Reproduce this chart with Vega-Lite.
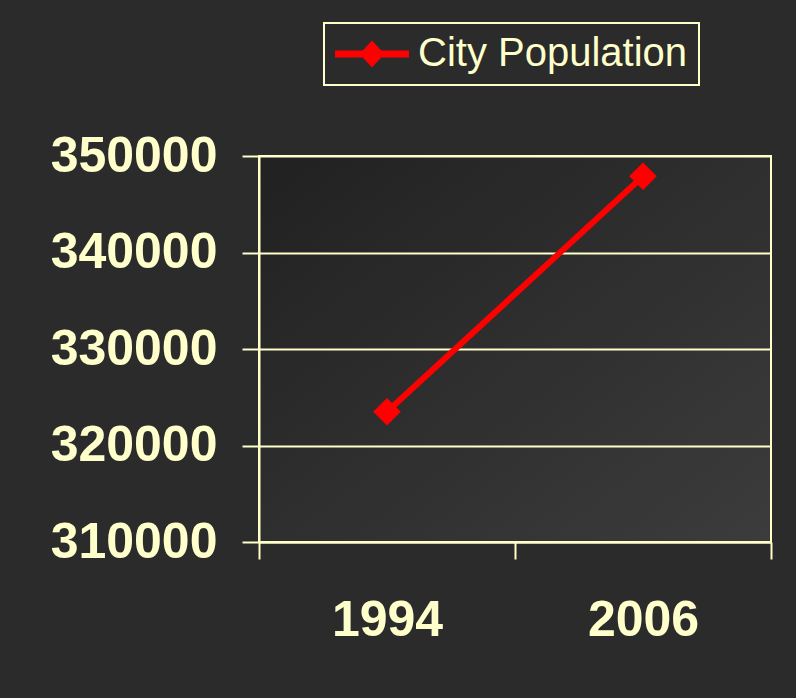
{
  "$schema": "https://vega.github.io/schema/vega-lite/v6.json",
  "width": 512,
  "height": 386,
  "autosize": {"type": "none"},
  "padding": {"left": 259, "top": 156, "right": 25, "bottom": 156},
  "background": "#2b2b2b",
  "data": {
    "values": [
      {"year": "1994", "population": 323500, "series": "City Population"},
      {"year": "2006", "population": 347900, "series": "City Population"}
    ]
  },
  "encoding": {
    "x": {
      "field": "year",
      "type": "nominal",
      "scale": {"paddingInner": 0, "paddingOuter": 0},
      "axis": {
        "title": null,
        "labelAngle": 0,
        "labelFont": "Liberation Sans",
        "labelFontWeight": "bold",
        "labelFontSize": 50,
        "labelColor": "#FFFFCC",
        "labelPadding": 36,
        "tickBand": "extent",
        "tickSize": 17,
        "tickWidth": 2,
        "tickColor": "#FFFFCC",
        "domainColor": "#FFFFCC",
        "domainWidth": 2,
        "grid": false
      }
    },
    "y": {
      "field": "population",
      "type": "quantitative",
      "scale": {"domain": [310000, 350000], "nice": false, "zero": false},
      "axis": {
        "title": null,
        "values": [310000, 320000, 330000, 340000, 350000],
        "format": "d",
        "labelFont": "Liberation Sans",
        "labelFontWeight": "bold",
        "labelFontSize": 50,
        "labelColor": "#FFFFCC",
        "labelPadding": 25,
        "tickSize": 17,
        "tickWidth": 2,
        "tickColor": "#FFFFCC",
        "domainColor": "#FFFFCC",
        "domainWidth": 2,
        "grid": true,
        "gridColor": "#FFFFCC",
        "gridWidth": 2,
        "gridOpacity": 1
      }
    },
    "color": {
      "field": "series",
      "type": "nominal",
      "scale": {"range": ["#FF0000"]},
      "legend": {
        "title": null,
        "orient": "none",
        "legendX": 65,
        "legendY": -133,
        "padding": 11,
        "strokeColor": "#FFFFCC",
        "symbolType": "M-1.85,-0.175L-0.463,-0.175L0,-0.675L0.463,-0.175L1.85,-0.175L1.85,0.175L0.463,0.175L0,0.675L-0.463,0.175L-1.85,0.175Z",
        "symbolSize": 1600,
        "symbolOffset": 17,
        "symbolFillColor": "#FF0000",
        "symbolStrokeWidth": 0,
        "labelFont": "Liberation Sans",
        "labelFontSize": 40,
        "labelColor": "#FFFFCC",
        "labelOffset": 26,
        "labelLimit": 400,
        "encode": {
          "symbols": {"update": {"fill": {"value": "#FF0000"}, "stroke": {"value": "#FF0000"}, "strokeWidth": {"value": 0}, "opacity": {"value": 1}}},
          "legend": {"update": {"strokeWidth": {"value": 2}}}
        }
      }
    }
  },
  "layer": [
    {"mark": {"type": "line", "strokeWidth": 6, "strokeCap": "round"}},
    {"mark": {"type": "point", "shape": "diamond", "size": 760, "filled": true, "opacity": 1}}
  ],
  "config": {
    "view": {
      "stroke": "#FFFFCC",
      "strokeWidth": 2,
      "fill": {
        "gradient": "linear",
        "x1": 0, "y1": 0, "x2": 1, "y2": 1,
        "stops": [
          {"offset": 0, "color": "#212121"},
          {"offset": 1, "color": "#3c3c3c"}
        ]
      }
    }
  }
}
